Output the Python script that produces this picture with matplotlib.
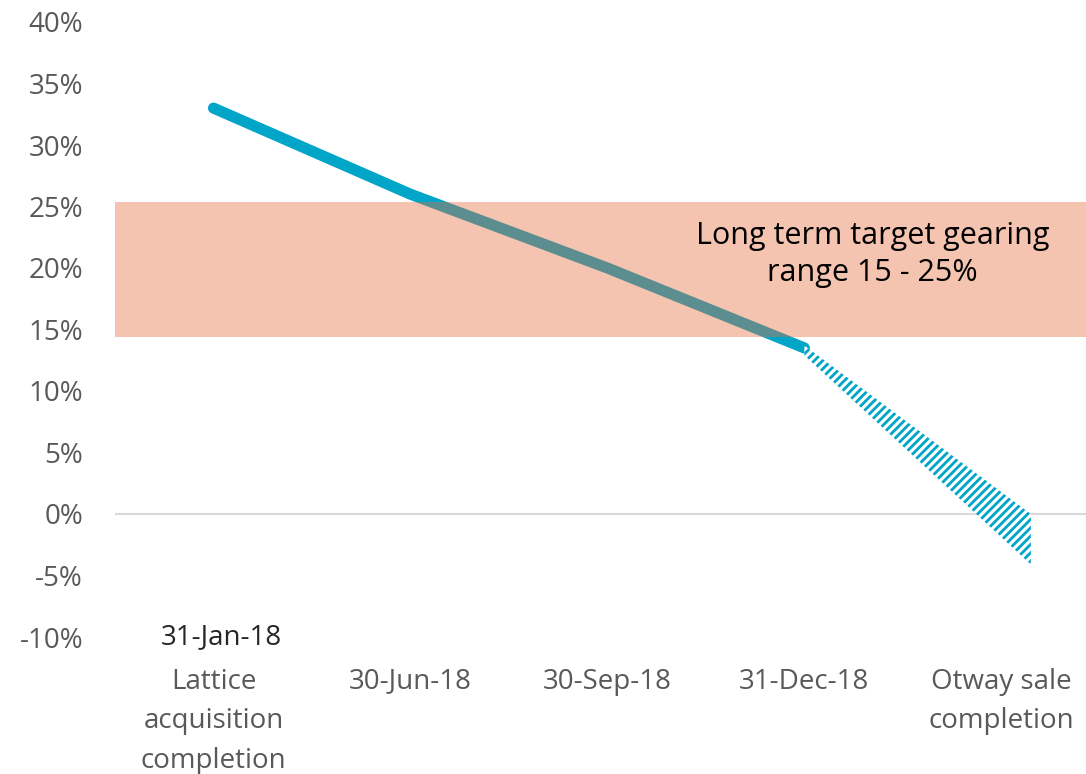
import matplotlib
matplotlib.use("Agg")
import matplotlib.pyplot as plt
import numpy as np

plt.rcParams['font.family'] = ['Open Sans', 'DejaVu Sans']
plt.rcParams['hatch.linewidth'] = 2.0

# data
categories = ['Lattice\nacquisition\ncompletion', '30-Jun-18', '30-Sep-18',
              '31-Dec-18', 'Otway sale\ncompletion']
gearing = [33.0, 26.0, 20.0, 13.5]          # actual gearing, %
proj_x = [3.0, 4.15]                        # projected range to Otway sale
proj_high = [13.7, 0.0]
proj_low = [12.9, -4.1]
target_low, target_high = 14.4, 25.4        # long term target band
yticks = np.arange(-10, 41, 5)

line_col = '#00A5C8'
band_col = '#E86C3A'
grey = '#595959'

fig = plt.figure(figsize=(10.86, 7.74), dpi=100)
ax = fig.add_axes([115 / 1086, 1 - 637 / 774, 971 / 1086, 615 / 774])

x = np.arange(len(gearing))
ax.plot(x, gearing, color=line_col, lw=8, solid_capstyle='round',
        solid_joinstyle='round', zorder=2)
ax.fill_between(proj_x, proj_high, proj_low, facecolor='white',
                edgecolor=line_col, hatch='////', linewidth=0, zorder=2)
ax.axhspan(target_low, target_high, color=band_col, alpha=0.4, lw=0, zorder=3)
ax.axhline(0, color='#D9D9D9', lw=1.5, zorder=1)

ax.text(3.345, 21.1, 'Long term target gearing\nrange 15 - 25%', ha='center',
        va='center', fontsize=22, color='black', linespacing=1.3, zorder=4)
ax.text(0.04, -10, '31-Jan-18', ha='center', va='center', fontsize=20,
        color='#262626')

ax.set_xlim(-0.5, 4.43)
ax.set_ylim(-10, 40)
ax.set_yticks(yticks)
ax.set_yticklabels(['%d%%' % v for v in yticks])
ax.set_xticks(range(len(categories)))
ax.set_xticklabels(categories, linespacing=1.55)
ax.tick_params(axis='both', length=0, labelsize=20, colors=grey)
ax.tick_params(axis='x', pad=22)
ax.tick_params(axis='y', pad=23)
for s in ax.spines.values():
    s.set_visible(False)

plt.savefig('out.png', dpi=100)
